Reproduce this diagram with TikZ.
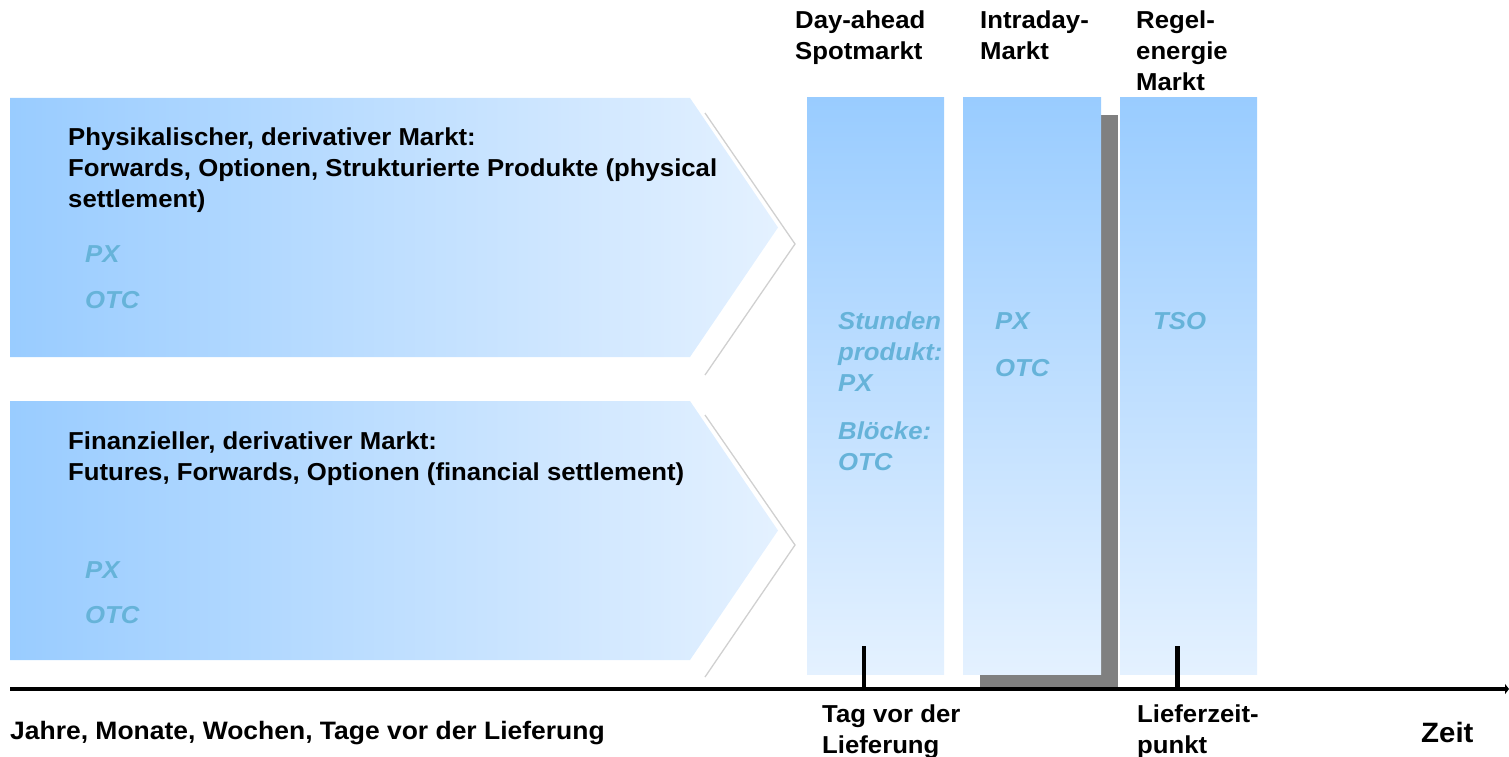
\documentclass[tikz,border=0pt]{standalone}
\usepackage{fontspec}
\setmainfont{Liberation Sans}[FakeStretch=1.05]
\usetikzlibrary{arrows.meta}
\definecolor{bluedark}{HTML}{99CCFF}
\definecolor{bluelight}{HTML}{E4F1FF}
\definecolor{txtblue}{HTML}{66B3D9}
\definecolor{chev}{HTML}{D0D0D0}
\definecolor{shadowgray}{HTML}{808080}
\begin{document}
\begin{tikzpicture}[x=1pt,y=-1pt,
  lbl/.style={anchor=base west, inner sep=0pt, align=left, font=\fontsize{24.5}{31}\selectfont\bfseries},
  mk/.style={anchor=base west, inner sep=0pt, align=left, text=txtblue, font=\fontsize{24.5}{31}\selectfont\bfseries\itshape},
  chevline/.style={draw=chev, line width=1.3pt},
  arrowshape/.style={left color=bluedark, right color=bluelight},
  colshape/.style={top color=bluedark, bottom color=bluelight},
  tick/.style={line width=4.5pt}]
\useasboundingbox (0,0) rectangle (1509,757);
% left arrows
\shade[arrowshape] (10,98) -- (690,98) -- (778,227.5) -- (690,357) -- (10,357) -- cycle;
\shade[arrowshape] (10,401) -- (690,401) -- (778,530.5) -- (690,660) -- (10,660) -- cycle;
\draw[chevline] (705,113) -- (795,244) -- (705,375);
\draw[chevline] (705,415) -- (795,545) -- (705,677);
% columns
\fill[shadowgray] (980,115) rectangle (1118,688);
\shade[colshape] (807,98) rectangle (944,674);
\shade[colshape] (963,98) rectangle (1101,674);
\shade[colshape] (1120,98) rectangle (1257,674);
% axis
\coordinate (ax0) at (10,689);
\coordinate (ax1) at (1509,689);
\draw[line width=4.5pt, -{Triangle[length=4pt,width=10pt]}] (ax0) -- (ax1);
\coordinate (t1a) at (864,646);
\coordinate (t1b) at (864,689);
\coordinate (t2a) at (1177.5,646);
\coordinate (t2b) at (1177.5,689);
\draw[tick] (t1a) -- (t1b);
\draw[tick] (t2a) -- (t2b);
% header labels (anchor = baseline of last line)
\node[lbl] (hda) at (795,60) {Day-ahead\\Spotmarkt};
\node[lbl] (hid) at (980,60) {Intraday-\\Markt};
\node[lbl] (hre) at (1136,91) {Regel-\\energie\\Markt};
% arrow texts
\node[lbl] (phys) at (68,207) {Physikalischer, derivativer Markt:\\Forwards, Optionen, Strukturierte Produkte (physical\\settlement)};
\node[mk] (ppx) at (85,262) {PX};
\node[mk] (potc) at (85,308) {OTC};
\node[lbl] (fin) at (68,480) {Finanzieller, derivativer Markt:\\Futures, Forwards, Optionen (financial settlement)};
\node[mk] (fpx) at (85,578) {PX};
\node[mk] (fotc) at (85,623) {OTC};
% column texts
\node[mk] (dstd) at (838,391.5) {Stunden\\produkt:\\PX};
\node[mk] (dblk) at (838,470) {Blöcke:\\OTC};
\node[mk] (ipx) at (995,329.5) {PX};
\node[mk] (iotc) at (995,376.5) {OTC};
\node[mk] (tso) at (1153,329.5) {TSO};
% bottom labels
\node[lbl, font=\fontsize{25.2}{31}\selectfont\bfseries] (jahre) at (10,739) {Jahre, Monate, Wochen, Tage vor der Lieferung};
\node[lbl] (tag) at (822,753) {Tag vor der\\Lieferung};
\node[lbl] (lief) at (1137,753) {Lieferzeit-\\punkt};
\node[lbl, font=\fontsize{28}{34}\selectfont\bfseries] (zeit) at (1421,742) {Zeit};
\end{tikzpicture}
\end{document}
